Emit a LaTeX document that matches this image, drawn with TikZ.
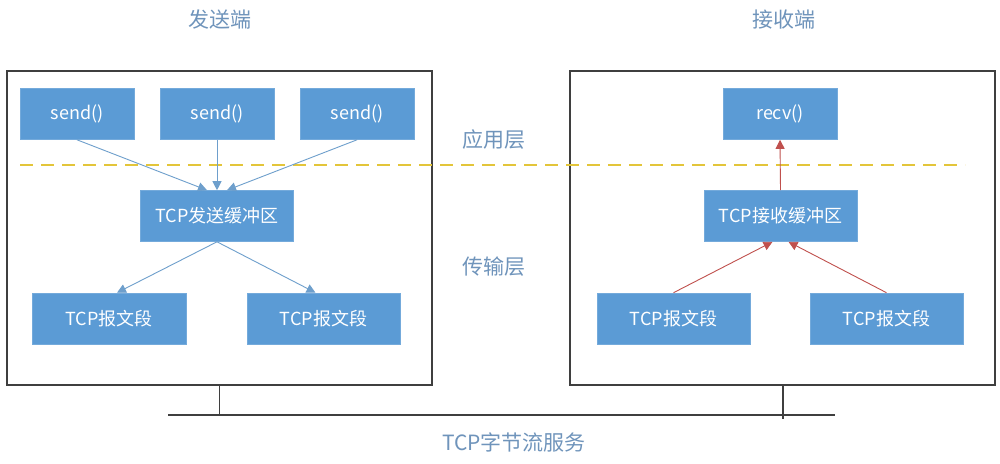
\documentclass[tikz,border=0pt]{standalone}
\usepackage{fontspec}
\setmainfont{Noto Sans CJK SC}
\usetikzlibrary{arrows.meta}
\definecolor{boxblue}{HTML}{5B9BD5}
\definecolor{bluearrow}{HTML}{6E9FCC}
\definecolor{redarrow}{HTML}{C0504D}
\definecolor{dashyellow}{HTML}{E3C53A}
\definecolor{labelblue}{HTML}{6F94BB}
\definecolor{framegray}{HTML}{3F3F3F}
\begin{document}
\begin{tikzpicture}[x=1pt,y=-1pt,
  blk/.style={fill=boxblue, text=white, font=\fontsize{18}{20}\selectfont, inner sep=0pt, minimum height=51pt, draw=boxblue!85!white, line width=0.6pt},
  frame/.style={draw=framegray, line width=1.3pt, inner sep=0pt},
  lbl/.style={text=labelblue, font=\fontsize{21}{24}\selectfont},
  barrow/.style={draw=bluearrow, line width=0.9pt, -{Triangle[width=9pt,length=9pt]}},
  rarrow/.style={draw=redarrow, line width=0.9pt, -{Triangle[width=9pt,length=9pt]}},
  link/.style={draw=framegray, line width=1.2pt}]
\useasboundingbox[fill=white] (0,0) rectangle (1000,463);

% outer frames
\node[frame, minimum width=425pt, minimum height=314pt] (L) at (219.5,228) {};
\node[frame, minimum width=425pt, minimum height=314pt] (R) at (782.5,228) {};

% dashed layer line
\coordinate (d1) at (20,165);
\coordinate (d2) at (965,165);
\draw[dashyellow, line width=1.4pt, dash pattern=on 13pt off 8pt] (d1) -- (d2);

% headings
\node[lbl] (hs) at (220,20) {发送端};
\node[lbl] (hr) at (784,20) {接收端};
\node[lbl] (app) at (494,140) {应用层};
\node[lbl] (trn) at (494,267) {传输层};
\node[lbl] (svc) at (514,442) {TCP字节流服务};

% sender
\node[blk, minimum width=114pt] (s1) at (77,114) {send()};
\node[blk, minimum width=114pt] (s2) at (217,114) {send()};
\node[blk, minimum width=114pt] (s3) at (357,114) {send()};
\node[blk, minimum width=153pt] (sb) at (217,216) {TCP发送缓冲区};
\node[blk, minimum width=154pt] (sp1) at (109,318.5) {TCP报文段};
\node[blk, minimum width=153pt] (sp2) at (323.5,318.5) {TCP报文段};

\draw[barrow] (s1.south) -- ([xshift=-10pt]sb.north);
\draw[barrow] (s2.south) -- (sb.north);
\draw[barrow] (s3.south) -- ([xshift=10pt]sb.north);
\draw[barrow] (sb.south) -- ([xshift=8pt]sp1.north);
\draw[barrow] (sb.south) -- ([xshift=-8pt]sp2.north);

% receiver
\node[blk, minimum width=114pt] (rv) at (780,114) {recv()};
\node[blk, minimum width=153pt] (rb) at (780.5,216) {TCP接收缓冲区};
\node[blk, minimum width=153pt] (rp1) at (673.5,318.5) {TCP报文段};
\node[blk, minimum width=153pt] (rp2) at (886.5,318.5) {TCP报文段};

\draw[rarrow] (rb.north) -- (rv.south);
\draw[rarrow] (rp1.north) -- ([xshift=-8pt]rb.south);
\draw[rarrow] (rp2.north) -- ([xshift=8pt]rb.south);

% byte stream service bus
\coordinate (bl) at (168,415);
\coordinate (br) at (835,415);
\coordinate (brr) at (783,419);
\draw[link] (bl) -- (br);
\draw[link] (L.south) -- (L.south |- bl);
\draw[link] (R.south -| brr) -- (brr);
\end{tikzpicture}
\end{document}
